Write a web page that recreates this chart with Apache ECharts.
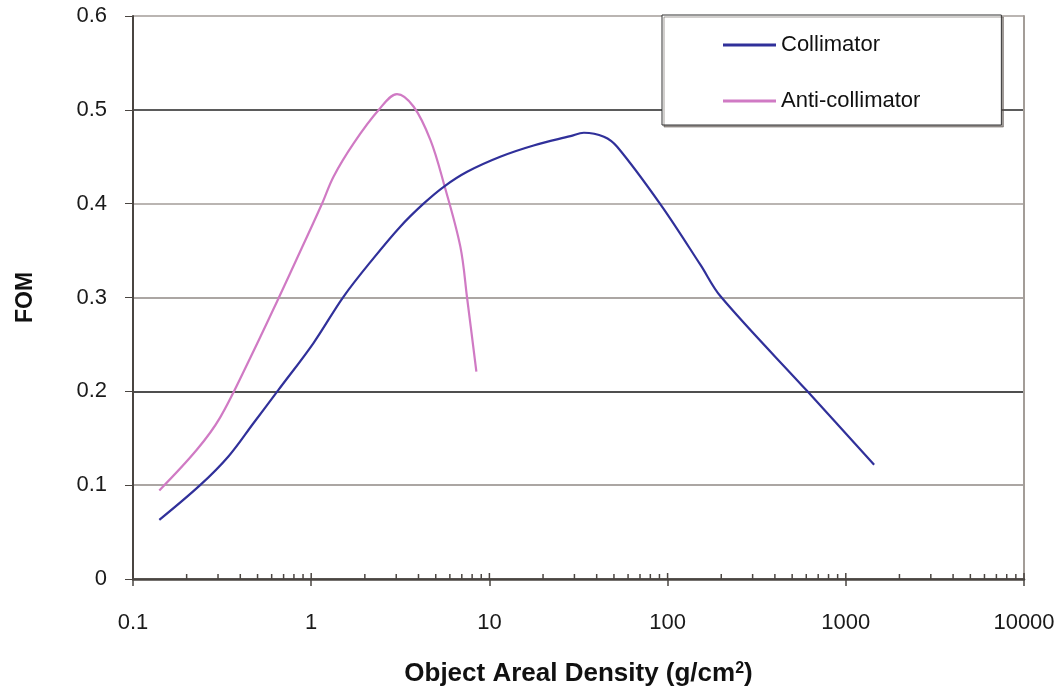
<!DOCTYPE html>
<html>
<head>
<meta charset="utf-8">
<script src="https://cdn.jsdelivr.net/npm/echarts@6/dist/echarts.min.js"></script>
<style>
  html, body { margin: 0; padding: 0; background: #ffffff; }
  #chart { width: 1063px; height: 698px; }
</style>
</head>
<body>
<div id="chart"></div>
<script>
// Figure of merit versus object areal density (g/cm^2)
const collimatorX = [0.1405, 0.238, 0.343, 0.474, 0.655, 1.03, 1.52, 2.24, 3.16, 4.27, 5.54, 7.5, 11.5, 17.7, 28.5, 33.9, 43.9, 52.1, 91.4, 153, 198.6, 609, 1442];
const collimatorY = [0.063, 0.100, 0.1306, 0.166, 0.2015, 0.2515, 0.301, 0.342, 0.3755, 0.400, 0.418, 0.434, 0.450, 0.462, 0.472, 0.4756, 0.4714, 0.4607, 0.399, 0.3347, 0.301, 0.200, 0.1217];

const antiX = [0.1405, 0.228, 0.308, 0.454, 0.655, 0.867, 1.148, 1.334, 1.73, 2.39, 3.03, 3.76, 4.67, 5.54, 6.87, 7.5, 8.45];
const antiY = [0.0944, 0.1377, 0.172, 0.2353, 0.299, 0.349, 0.3997, 0.4288, 0.4643, 0.4998, 0.5168, 0.5033, 0.4677, 0.422, 0.3542, 0.2992, 0.2211];

const xDecades = [0.1, 1, 10, 100, 1000, 10000];
const yTicks = [0, 0.1, 0.2, 0.3, 0.4, 0.5, 0.6];

const pairs = (xs, ys) => xs.map((x, i) => [x, ys[i]]);

// minor tick positions at 2..9 of each decade
const minorTicks = [];
for (let d = 0; d < xDecades.length - 1; d++) {
  for (let k = 2; k <= 9; k++) minorTicks.push([xDecades[d] * k, 0]);
}
const majorTicks = xDecades.map(v => [v, 0]);

const axisColor = '#4a4541';
const font = '"Liberation Sans", Arial, sans-serif';

function tickRenderer(len) {
  return function (params, api) {
    const p = api.coord([api.value(0), 0]);
    return {
      type: 'line',
      shape: { x1: p[0], y1: p[1], x2: p[0], y2: p[1] - len },
      style: { stroke: axisColor, lineWidth: 1.5 }
    };
  };
}

const chart = echarts.init(document.getElementById('chart'), null, { renderer: 'canvas' });

chart.setOption({
  animation: false,
  backgroundColor: '#ffffff',
  grid: { left: 133, right: 39, top: 16, bottom: 119, containLabel: false, outerBoundsMode: 'none' },
  legend: {
    data: [
      { name: 'Collimator', icon: 'rect' },
      { name: 'Anti-collimator', icon: 'rect' }
    ],
    orient: 'vertical',
    left: 662,
    top: 15,
    padding: [19, 81, 13, 61],
    itemWidth: 53,
    itemHeight: 3,
    itemGap: 34,
    backgroundColor: '#ffffff',
    borderColor: '#333333',
    borderWidth: 1,
    shadowColor: 'rgba(90,80,75,0.55)',
    shadowOffsetX: 2,
    shadowOffsetY: 2,
    shadowBlur: 0,
    textStyle: { fontFamily: font, fontSize: 22, lineHeight: 22, color: '#111111' }
  },
  xAxis: {
    type: 'log',
    logBase: 10,
    min: 0.1,
    max: 10000,
    name: 'Object Areal Density (g/cm{sup|2})',
    nameLocation: 'middle',
    nameGap: 82,
    nameTextStyle: {
      fontFamily: font, fontSize: 26, fontWeight: 'bold', color: '#111111',
      rich: {
        sup: { fontFamily: font, fontSize: 16, fontWeight: 'bold', color: '#111111', verticalAlign: 'top', padding: [0, 0, 10, 0] }
      }
    },
    axisLine: { show: true, onZero: false, lineStyle: { color: axisColor, width: 2.5 } },
    axisTick: { show: true, length: 7, lineStyle: { color: axisColor, width: 1.5 } },
    minorTick: { show: false },
    splitLine: { show: false },
    axisLabel: {
      fontFamily: font, fontSize: 22, color: '#1a1a1a', margin: 33,
      formatter: v => String(v)
    }
  },
  yAxis: [{
    type: 'value',
    min: 0,
    max: 0.6,
    interval: 0.1,
    name: 'FOM',
    nameLocation: 'middle',
    nameGap: 96,
    nameRotate: 90,
    nameTextStyle: { fontFamily: font, fontSize: 23, fontWeight: 'bold', color: '#111111' },
    axisLine: { show: true, lineStyle: { color: axisColor, width: 2 } },
    axisTick: { show: true, length: 8, lineStyle: { color: axisColor, width: 1 } },
    axisLabel: {
      fontFamily: font, fontSize: 22, color: '#1a1a1a', margin: 26,
      formatter: v => (v === 0 ? '0' : v.toFixed(1))
    },
    splitLine: {
      show: true,
      lineStyle: {
        color: ['#5a5550', '#8f8984', '#151515', '#8f8984', '#a39d98', '#252525', '#a39d98'],
        width: 1.5
      }
    }
  }, {
    type: 'value',
    position: 'right',
    min: 0,
    max: 0.6,
    interval: 0.1,
    axisLine: { show: true, lineStyle: { color: '#a39d98', width: 2 } },
    axisTick: { show: false },
    axisLabel: { show: false },
    splitLine: { show: false }
  }],
  series: [
    {
      name: 'Collimator',
      type: 'line',
      data: pairs(collimatorX, collimatorY),
      smooth: 0.35,
      symbol: 'none',
      lineStyle: { color: '#30309a', width: 2.2 },
      itemStyle: { color: '#30309a' },
      z: 4
    },
    {
      name: 'Anti-collimator',
      type: 'line',
      data: pairs(antiX, antiY),
      smooth: 0.35,
      symbol: 'none',
      lineStyle: { color: '#d07ac4', width: 2.2 },
      itemStyle: { color: '#d07ac4' },
      z: 3
    },
    {
      name: 'minor',
      type: 'custom',
      data: minorTicks,
      renderItem: tickRenderer(5),
      silent: true,
      clip: false,
      z: 5
    },
    {
      name: 'major',
      type: 'custom',
      data: majorTicks,
      renderItem: tickRenderer(6),
      silent: true,
      clip: false,
      z: 5
    }
  ]
});
</script>
</body>
</html>
